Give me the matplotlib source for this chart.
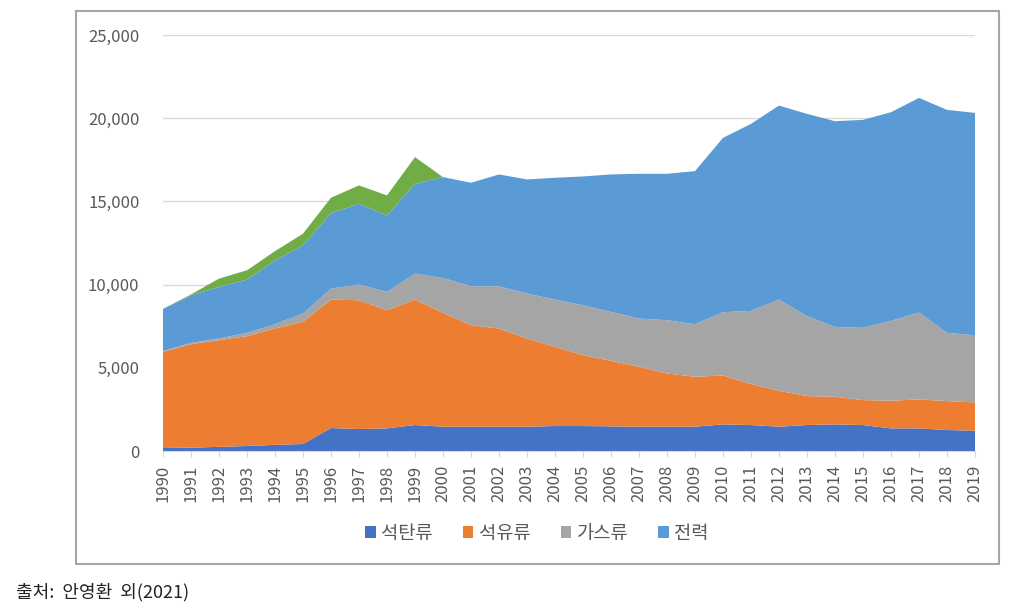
import numpy as np
import matplotlib
matplotlib.use('Agg')
import matplotlib.pyplot as plt
from matplotlib.patches import Rectangle, Patch

plt.rcParams['font.family'] = ['Noto Sans CJK KR', 'DejaVu Sans']

# ── Data ──────────────────────────────────────────────────────────────────────
years = list(range(1990, 2020))
coal = [180, 200, 250, 300, 370, 420, 1380, 1320, 1360, 1560,
        1460, 1460, 1460, 1460, 1500, 1500, 1480, 1460, 1460, 1460,
        1600, 1560, 1460, 1560, 1600, 1560, 1360, 1360, 1260, 1220]
oil = [5780, 6220, 6410, 6600, 6990, 7340, 7720, 7740, 7100, 7540,
       6840, 6100, 5900, 5300, 4760, 4260, 3940, 3600, 3200, 3000,
       2940, 2460, 2160, 1740, 1660, 1500, 1660, 1740, 1740, 1700]
gas = [40, 80, 100, 200, 260, 500, 660, 940, 1100, 1560,
       2100, 2340, 2540, 2700, 2840, 3000, 2940, 2900, 3200, 3160,
       3800, 4400, 5480, 4800, 4200, 4340, 4800, 5220, 4100, 4040]
power = [2540, 2860, 3100, 3200, 3840, 4100, 4540, 4860, 4600, 5400,
         6060, 6220, 6720, 6860, 7320, 7740, 8260, 8700, 8800, 9200,
         10480, 11240, 11660, 12160, 12360, 12500, 12540, 12900, 13400, 13360]
other = [0, 50, 500, 560, 550, 700, 920, 1100, 1200, 1600,
         0, 0, 0, 0, 0, 0, 0, 0, 0, 0,
         0, 0, 0, 0, 0, 0, 0, 0, 0, 0]

labels = ['석탄류', '석유류', '가스류', '전력']
colors = ['#4472C4', '#ED7D31', '#A5A5A5', '#5B9BD5', '#70AD47']

# ── Figure ────────────────────────────────────────────────────────────────────
fig = plt.figure(figsize=(10.16, 6.09), dpi=100)
ax = fig.add_axes([163 / 1016, 1 - 451 / 609, (975 - 163) / 1016, (451 - 35) / 609])

ax.stackplot(years, coal, oil, gas, power, other, colors=colors, linewidth=0)

ax.set_xlim(years[0], years[-1])
ax.set_ylim(0, 25000)
ax.set_yticks(np.arange(0, 25001, 5000))
ax.yaxis.set_major_formatter(matplotlib.ticker.FuncFormatter(lambda v, p: f'{int(v):,}'))
ax.set_xticks(years)
ax.set_xticklabels([str(y) for y in years], rotation=90)

ax.grid(axis='y', color='#D9D9D9', linewidth=1)
ax.set_axisbelow(True)
for s in ['top', 'right', 'left']:
    ax.spines[s].set_visible(False)
ax.spines['bottom'].set_color('#D9D9D9')
ax.tick_params(axis='y', length=0, pad=17, labelsize=12, labelcolor='#595959')
ax.tick_params(axis='x', length=4, color='#D9D9D9', pad=6, labelsize=12, labelcolor='#595959')

handles = [Patch(facecolor=c, edgecolor='none') for c in colors[:4]]
fig.legend(handles, labels, loc='center', bbox_to_anchor=(537 / 1016, 1 - 533 / 609),
           ncol=4, frameon=False, fontsize=13.5, labelcolor='#595959',
           handlelength=0.55, handleheight=0.55, handletextpad=0.3, columnspacing=1.6)

# chart frame
fig.patches.append(Rectangle((76 / 1016, 1 - 564 / 609), (999 - 76) / 1016, (564 - 11) / 609,
                             transform=fig.transFigure, fill=False,
                             edgecolor='#A6A6A6', linewidth=1.5))

fig.text(16 / 1016, 1 - 592 / 609, '출처:  안영환  외(2021)', fontsize=13,
         color='#222222', va='center', ha='left')

plt.savefig('out.png', dpi=100)
